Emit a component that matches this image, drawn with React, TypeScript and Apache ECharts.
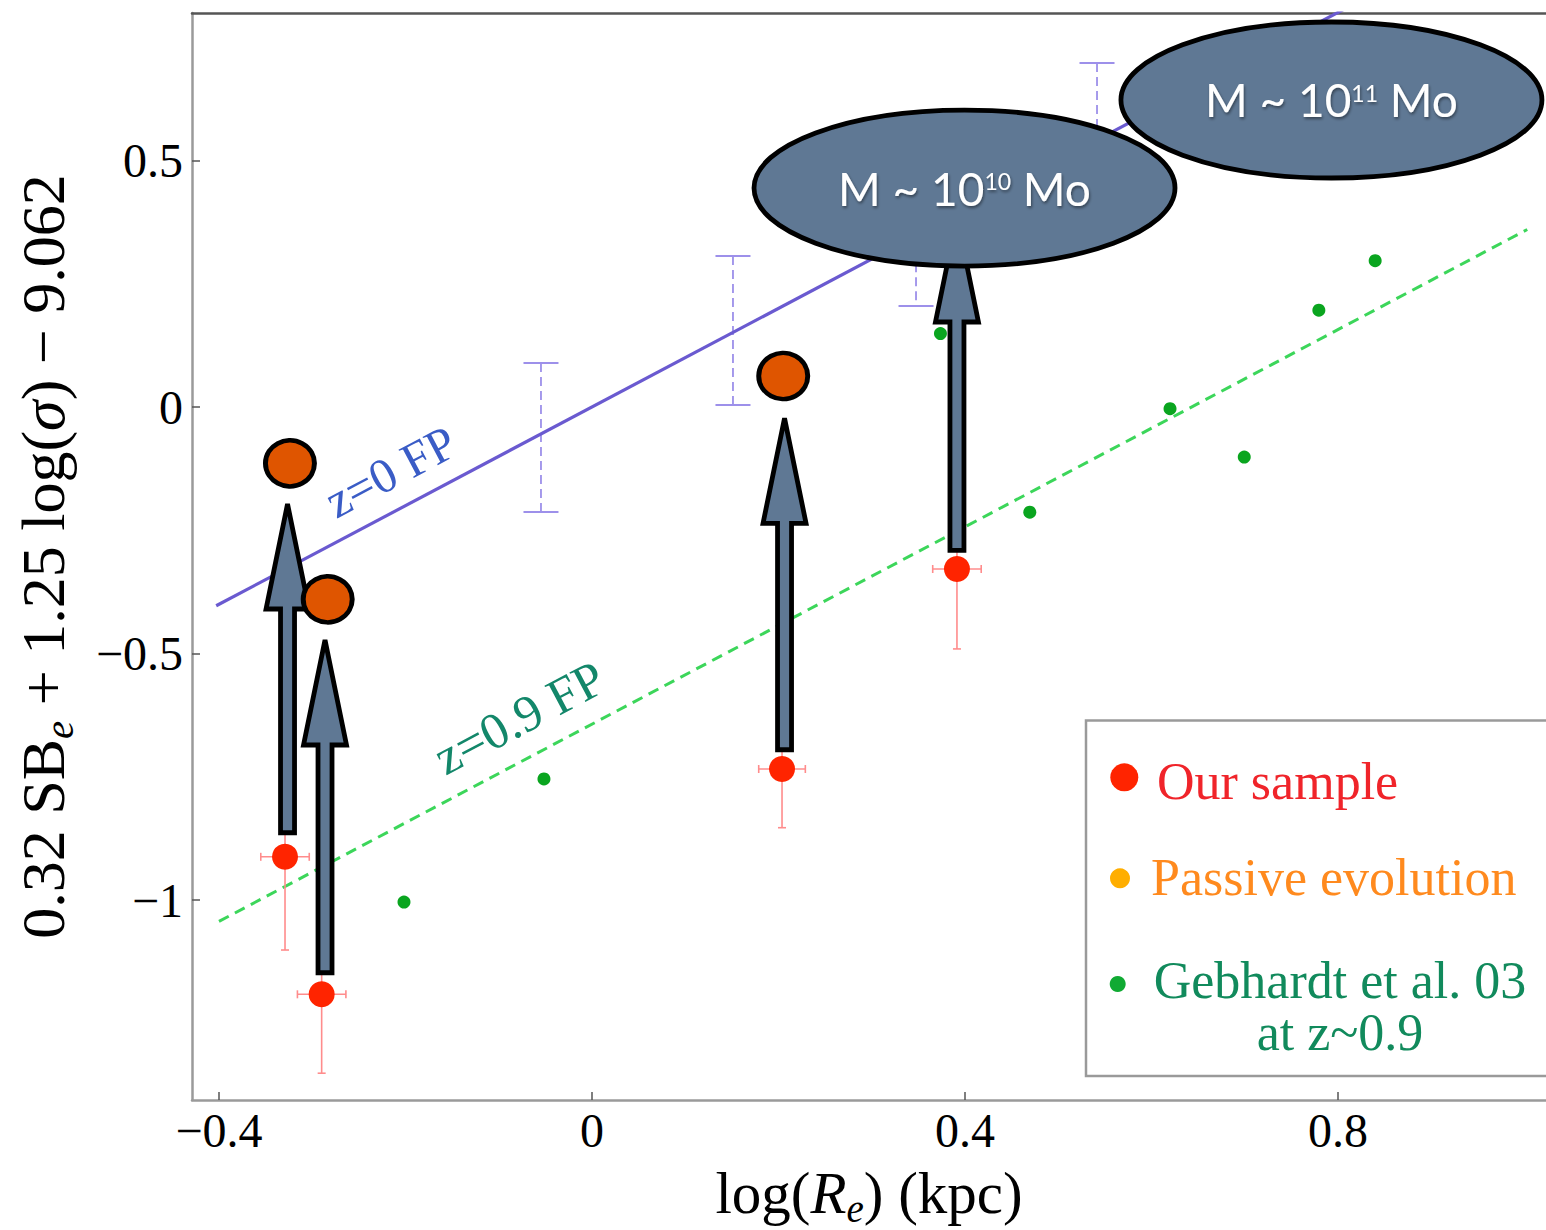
import React, { useEffect, useRef } from 'react';
import * as echarts from 'echarts';

// ---- axis ranges and ticks ----
const X_MIN = -0.42895;
const X_MAX = 1.0231;
const Y_MIN = -1.4051;
const Y_MAX = 0.7989;
const xTickValues = [-0.4, 0, 0.4, 0.8];
const yTickValues = [-1, -0.5, 0, 0.5];

// ---- Our sample (red) ----
const ourSampleX = [-0.3292, -0.2899, 0.2038, 0.3914];
const ourSampleY = [-0.912, -1.1908, -0.734, -0.3285];
const ourSampleErrX = [0.026, 0.026, 0.025, 0.026];
const ourSampleErrY = [0.189, 0.16, 0.119, 0.162];

// ---- Passive evolution (orange) ----
const passiveX = [-0.3239, -0.2834, 0.2051];
const passiveY = [-0.1142, -0.3899, 0.0629];

// ---- Gebhardt et al. 03 (green) ----
const gebhardtX = [-0.2016, -0.0515, 0.3737, 0.4695, 0.6199, 0.6995, 0.7795, 0.8399];
const gebhardtY = [-1.0037, -0.754, 0.149, -0.2133, -0.0034, -0.1016, 0.1963, 0.2966];

// ---- fundamental plane lines ----
const fp0X = [-0.403, 0.86];
const fp0Y = [-0.403, 0.86];
const fp09X = [-0.4, 1.003];
const fp09Y = [-1.043, 0.36];

// ---- scatter bars around z=0 FP ----
const fpErrX = [-0.0547, 0.1512, 0.3475, 0.5416];
const fpErrTop = [0.0892, 0.3062, 0.49, 0.6975];
const fpErrBottom = [-0.2129, 0.0041, 0.2048, 0.3857];

// ---- arrows (x, from y, to y) ----
const arrowX = [-0.3265, -0.2863, 0.2065, 0.3914];
const arrowFrom = [-0.8678, -1.1517, -0.6995, -0.2954];
const arrowTo = [-0.1764, -0.4521, -0.0026, 0.4055];

// ---- mass bubbles ----
const bubbleX = [0.3995, 0.793];
const bubbleY = [0.444, 0.6225];
const bubbleExp = ['10', '11'];

// ---- line labels ----
const fpLabelText = ['z=0 FP', 'z=0.9 FP'];
const fpLabelX = [-0.216, -0.078];
const fpLabelY = [-0.131, -0.63];
const fpLabelColor = ['#3a5cc6', '#13876a'];
const fpLabelSize = [49, 51];

// ---- legend ----
const legendLabels = ['Our sample', 'Passive evolution', 'Gebhardt et al. 03\nat z~0.9'];

const SERIF = '"Liberation Serif", "DejaVu Serif", serif';
const SANS = 'Lato, "Open Sans", sans-serif';
const FP_ANGLE = Math.atan(493.2 / 932.5);
const BUBBLE_FILL = '#5f7894';

const fmt = (v: number) => (v < 0 ? '\u2212' + String(Math.abs(v)) : String(v));

function buildOption() {
  const ourSample = ourSampleX.map((x, i) => [x, ourSampleY[i]]);
  const ourErr = ourSampleX.map((x, i) => [x, ourSampleY[i], ourSampleErrX[i], ourSampleErrY[i]]);
  const passive = passiveX.map((x, i) => [x, passiveY[i]]);
  const gebhardt = gebhardtX.map((x, i) => [x, gebhardtY[i]]);
  const fp0 = fp0X.map((x, i) => [x, fp0Y[i]]);
  const fp09 = fp09X.map((x, i) => [x, fp09Y[i]]);
  const fpErr = fpErrX.map((x, i) => [x, fpErrTop[i], fpErrBottom[i]]);
  const arrows = arrowX.map((x, i) => [x, arrowFrom[i], arrowTo[i]]);
  const bubbles = bubbleX.map((x, i) => [x, bubbleY[i]]);
  const fpLabels = fpLabelX.map((x, i) => [x, fpLabelY[i]]);

  const mkRich = (size: number, lh: number, pad: number) => ({
    n: { fontFamily: SERIF, fontSize: size, color: '#000', lineHeight: lh },
    i: { fontFamily: SERIF, fontSize: size, fontStyle: 'italic', color: '#000', lineHeight: lh },
    s: { fontFamily: SERIF, fontSize: Math.round(size * 0.66), fontStyle: 'italic', color: '#000', lineHeight: lh, padding: [pad, 0, 0, 0] },
  });

  return {
    animation: false,
    backgroundColor: '#ffffff',
    grid: { left: 192, top: 13, width: 1354, height: 1087, containLabel: false, outerBoundsMode: 'none' },
    xAxis: [
      {
        type: 'value',
        min: X_MIN,
        max: X_MAX,
        position: 'bottom',
        axisLine: { show: true, onZero: false, lineStyle: { color: '#9a9a9a', width: 2.5 } },
        axisTick: { show: true, inside: true, length: 8, customValues: xTickValues, lineStyle: { color: '#555', width: 1.5 } },
        axisLabel: { customValues: xTickValues, formatter: fmt, fontFamily: SERIF, fontSize: 48, color: '#000', margin: 6 },
        splitLine: { show: false },
        name: '{n|log(}{i|R}{s|e}{n|) (kpc)}',
        nameLocation: 'middle',
        nameGap: 56,
        nameTextStyle: { fontFamily: SERIF, fontSize: 59, color: '#000', rich: mkRich(59, 58, 30) },
      },
      {
        type: 'value',
        min: X_MIN,
        max: X_MAX,
        position: 'top',
        axisLine: { show: true, onZero: false, lineStyle: { color: '#555', width: 2.5 } },
        axisTick: { show: false },
        axisLabel: { show: false },
        splitLine: { show: false },
      },
    ],
    yAxis: [
      {
        type: 'value',
        min: Y_MIN,
        max: Y_MAX,
        position: 'left',
        axisLine: { show: true, onZero: false, lineStyle: { color: '#9a9a9a', width: 2.5 } },
        axisTick: { show: true, inside: true, length: 8, customValues: yTickValues, lineStyle: { color: '#555', width: 1.5 } },
        axisLabel: { customValues: yTickValues, formatter: fmt, fontFamily: SERIF, fontSize: 48, color: '#000', margin: 9 },
        splitLine: { show: false },
        name: '{n|0.32 SB}{s|e}{n| + 1.25 log(}{i|\u03c3}{n|) \u2212 9.062}',
        nameLocation: 'middle',
        nameGap: 117,
        nameTextStyle: { fontFamily: SERIF, fontSize: 62, color: '#000', rich: mkRich(62, 64, 32) },
      },
    ],
    series: [
      {
        name: 'z=0 FP',
        type: 'line',
        data: fp0,
        symbol: 'none',
        clip: true,
        z: 2,
        lineStyle: { color: '#6a5ad0', width: 3.2 },
      },
      {
        name: 'z=0.9 FP',
        type: 'line',
        data: fp09,
        symbol: 'none',
        clip: true,
        z: 2,
        lineStyle: { color: '#3cd65a', width: 3, type: [11, 7] },
      },
      {
        name: 'FP scatter',
        type: 'custom',
        coordinateSystem: 'cartesian2d',
        encode: { x: 0, y: 1 },
        data: fpErr,
        z: 2,
        silent: true,
        renderItem: (params: any, api: any) => {
          const x = api.value(0);
          const t = api.coord([x, api.value(1)]);
          const b = api.coord([x, api.value(2)]);
          const col = '#9d90ea';
          return {
            type: 'group',
            children: [
              { type: 'line', shape: { x1: t[0], y1: t[1], x2: b[0], y2: b[1] }, style: { stroke: col, lineWidth: 1.8, lineDash: [9, 5] } },
              { type: 'line', shape: { x1: t[0] - 17.5, y1: t[1], x2: t[0] + 17.5, y2: t[1] }, style: { stroke: col, lineWidth: 2 } },
              { type: 'line', shape: { x1: b[0] - 17.5, y1: b[1], x2: b[0] + 17.5, y2: b[1] }, style: { stroke: col, lineWidth: 2 } },
            ],
          };
        },
      },
      {
        name: 'FP labels',
        type: 'custom',
        coordinateSystem: 'cartesian2d',
        encode: { x: 0, y: 1 },
        data: fpLabels,
        z: 3,
        silent: true,
        renderItem: (params: any, api: any) => {
          const p = api.coord([api.value(0), api.value(1)]);
          const i = params.dataIndex;
          return {
            type: 'text',
            x: p[0],
            y: p[1],
            rotation: FP_ANGLE,
            style: {
              text: fpLabelText[i],
              fill: fpLabelColor[i],
              font: `${fpLabelSize[i]}px ${SERIF}`,
              align: 'center',
              verticalAlign: 'middle',
            },
          };
        },
      },
      {
        name: 'Gebhardt et al. 03',
        type: 'scatter',
        data: gebhardt,
        symbol: 'circle',
        symbolSize: 13,
        z: 3,
        itemStyle: { color: '#0aa51f', opacity: 1 },
      },
      {
        name: 'Our sample errors',
        type: 'custom',
        coordinateSystem: 'cartesian2d',
        encode: { x: 0, y: 1 },
        data: ourErr,
        z: 3,
        silent: true,
        renderItem: (params: any, api: any) => {
          const x = api.value(0);
          const y = api.value(1);
          const ex = api.value(2);
          const ey = api.value(3);
          const t = api.coord([x, y + ey]);
          const b = api.coord([x, y - ey]);
          const l = api.coord([x - ex, y]);
          const r = api.coord([x + ex, y]);
          const st = { stroke: '#ff8c8c', lineWidth: 1.6 };
          return {
            type: 'group',
            children: [
              { type: 'line', shape: { x1: t[0], y1: t[1], x2: b[0], y2: b[1] }, style: st },
              { type: 'line', shape: { x1: t[0] - 4, y1: t[1], x2: t[0] + 4, y2: t[1] }, style: st },
              { type: 'line', shape: { x1: b[0] - 4, y1: b[1], x2: b[0] + 4, y2: b[1] }, style: st },
              { type: 'line', shape: { x1: l[0], y1: l[1], x2: r[0], y2: r[1] }, style: st },
              { type: 'line', shape: { x1: l[0], y1: l[1] - 4, x2: l[0], y2: l[1] + 4 }, style: st },
              { type: 'line', shape: { x1: r[0], y1: r[1] - 4, x2: r[0], y2: r[1] + 4 }, style: st },
            ],
          };
        },
      },
      {
        name: 'Our sample',
        type: 'scatter',
        data: ourSample,
        symbol: 'circle',
        symbolSize: 26,
        z: 4,
        itemStyle: { color: '#ff2400', opacity: 1 },
      },
      {
        name: 'Arrows',
        type: 'custom',
        coordinateSystem: 'cartesian2d',
        encode: { x: 0, y: 1 },
        data: arrows,
        z: 5,
        silent: true,
        renderItem: (params: any, api: any) => {
          const x = api.value(0);
          const b = api.coord([x, api.value(1)]);
          const t = api.coord([x, api.value(2)]);
          const cx = b[0];
          const by = b[1] - 2.25;
          const ty = t[1] + 10;
          const hy = t[1] + 115;
          const sw = 7;
          const hw = 21.5;
          return {
            type: 'polygon',
            shape: {
              points: [
                [cx - sw, by],
                [cx + sw, by],
                [cx + sw, hy],
                [cx + hw, hy],
                [cx, ty],
                [cx - hw, hy],
                [cx - sw, hy],
              ],
            },
            style: { fill: BUBBLE_FILL, stroke: '#000', lineWidth: 4.8, lineJoin: 'miter' },
          };
        },
      },
      {
        name: 'Passive evolution',
        type: 'scatter',
        data: passive,
        symbol: 'circle',
        symbolSize: [49, 46],
        z: 6,
        itemStyle: { color: '#df5500', borderColor: '#000', borderWidth: 4.8, opacity: 1 },
      },
      {
        name: 'Mass bubbles',
        type: 'custom',
        coordinateSystem: 'cartesian2d',
        encode: { x: 0, y: 1 },
        data: bubbles,
        z: 7,
        silent: true,
        renderItem: (params: any, api: any) => {
          const p = api.coord([api.value(0), api.value(1)]);
          const i = params.dataIndex;
          const shadow = { textShadowColor: 'rgba(0,0,0,0.45)', textShadowBlur: 3, textShadowOffsetX: 1, textShadowOffsetY: 2 };
          return {
            type: 'group',
            children: [
              {
                type: 'ellipse',
                shape: { cx: p[0], cy: p[1], rx: 210.5, ry: 78 },
                style: { fill: BUBBLE_FILL, stroke: '#000', lineWidth: 4.8 },
              },
              {
                type: 'text',
                x: p[0],
                y: p[1],
                style: {
                  text: `{a|M ~ 10}{b|${bubbleExp[i]}}{a| Mo}`,
                  align: 'center',
                  verticalAlign: 'middle',
                  fill: '#fff',
                  rich: {
                    a: { fontFamily: SANS, fontSize: 46, fill: '#ffffff', lineHeight: 56, ...shadow },
                    b: { fontFamily: SANS, fontSize: 23, fill: '#ffffff', lineHeight: 56, padding: [0, 0, 14, 0], ...shadow },
                  },
                },
              },
            ],
          };
        },
      },
    ],
    graphic: {
      elements: [
        {
          type: 'group',
          z: 100,
          silent: true,
          children: [
            {
              type: 'rect',
              shape: { x: 1086, y: 720.5, width: 490, height: 355.5 },
              style: { fill: '#ffffff', stroke: '#9a9a9a', lineWidth: 2.5 },
            },
            { type: 'circle', shape: { cx: 1124.3, cy: 777.3, r: 14 }, style: { fill: '#ff2400' } },
            { type: 'circle', shape: { cx: 1120, cy: 878.3, r: 10 }, style: { fill: '#ffae00' } },
            { type: 'circle', shape: { cx: 1117.7, cy: 984, r: 8 }, style: { fill: '#10aa33' } },
            {
              type: 'text',
              x: 1157,
              y: 781,
              style: { text: legendLabels[0], font: `52px ${SERIF}`, fill: '#f0242a', align: 'left', verticalAlign: 'middle' },
            },
            {
              type: 'text',
              x: 1151,
              y: 877,
              style: { text: legendLabels[1], font: `52px ${SERIF}`, fill: '#ff8a1e', align: 'left', verticalAlign: 'middle' },
            },
            {
              type: 'text',
              x: 1340,
              y: 1006,
              style: {
                text: legendLabels[2],
                font: `52px ${SERIF}`,
                lineHeight: 52,
                fill: '#118a5c',
                align: 'center',
                verticalAlign: 'middle',
              },
            },
          ],
        },
      ],
    },
  };
}

export default function App() {
  const ref = useRef<HTMLDivElement>(null);
  useEffect(() => {
    if (!ref.current) return;
    const chart = echarts.init(ref.current, null, { renderer: 'svg' });
    chart.setOption(buildOption() as any);
    return () => {
      chart.dispose();
    };
  }, []);
  return (
    <div
      ref={ref}
      style={{ position: 'fixed', left: 0, top: 0, width: 1546, height: 1230, background: '#ffffff' }}
    />
  );
}
